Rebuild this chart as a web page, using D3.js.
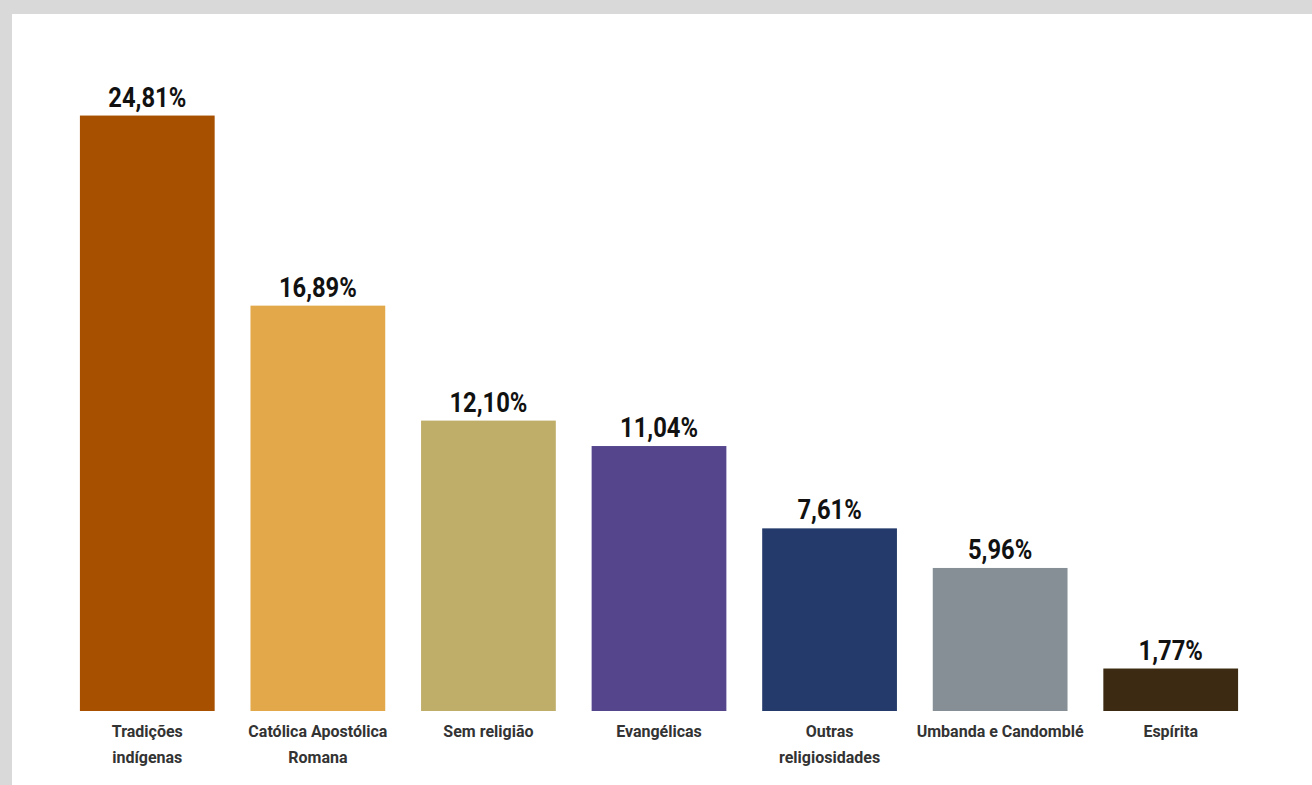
<!DOCTYPE html>
<html>
<head>
<meta charset="utf-8">
<script src="https://cdn.jsdelivr.net/npm/d3@7"></script>
<style>
  html, body { margin: 0; padding: 0; background: #d9d9d9; }
  #chart { position: absolute; left: 12px; top: 14px; }
  .val { font-family: "Roboto", "Liberation Sans", sans-serif; font-weight: bold; fill: #111; }
  .cat { font-family: "Roboto", "Liberation Sans", sans-serif; font-weight: bold; fill: #333; }
</style>
</head>
<body>
<div id="chart"></div>
<script>
// religiões - percentuais
var categories = ["Tradições\nindígenas", "Católica Apostólica\nRomana", "Sem religião", "Evangélicas",
                  "Outras\nreligiosidades", "Umbanda e Candomblé", "Espírita"];
var values = [24.81, 16.89, 12.10, 11.04, 7.61, 5.96, 1.77];
var colors = ["#a65000", "#e2a84a", "#bfad6a", "#54458c", "#233a6a", "#858f95", "#3c2b12"];

var W = 1300, H = 771;
// offsets relative to the white panel
var margin = {left: 50, right: 56, top: 97, bottom: 74};

var svg = d3.select("#chart").append("svg")
    .attr("width", W)
    .attr("height", H);

svg.append("rect").attr("width", W).attr("height", H).attr("fill", "#fff");

var x = d3.scaleBand()
    .domain(categories)
    .range([margin.left, W - margin.right])
    .paddingInner(0.21)
    .paddingOuter(0.105);

var y = d3.scaleLinear()
    .domain([0, 25])
    .range([H - margin.bottom, margin.top]);

var fmt = function(v){ return d3.format(".2f")(v).replace(".", ",") + "%"; };

var bars = svg.selectAll(".bar")
    .data(values)
    .enter().append("g")
    .attr("class", "bar");

bars.append("rect")
    .attr("x", function(d, i){ return x(categories[i]); })
    .attr("y", function(d){ return y(d); })
    .attr("width", x.bandwidth())
    .attr("height", function(d){ return y(0) - y(d); })
    .attr("fill", function(d, i){ return colors[i]; });

// value labels, squeezed a bit to look like the narrow font of the original
bars.append("text")
    .attr("class", "val")
    .attr("transform", function(d, i){
        return "translate(" + (x(categories[i]) + x.bandwidth() / 2) + "," + (y(d) - 9) + ") scale(0.88,1)";
    })
    .attr("text-anchor", "middle")
    .style("font-size", "27px")
    .text(fmt);

// category labels under the bars
categories.forEach(function(c, i){
    var t = svg.append("text")
        .attr("class", "cat")
        .attr("text-anchor", "middle")
        .style("font-size", "16px");
    c.split("\n").forEach(function(line, j){
        t.append("tspan")
            .attr("x", x(c) + x.bandwidth() / 2)
            .attr("y", y(0) + 26 + j * 26)
            .text(line);
    });
});
</script>
</body>
</html>
